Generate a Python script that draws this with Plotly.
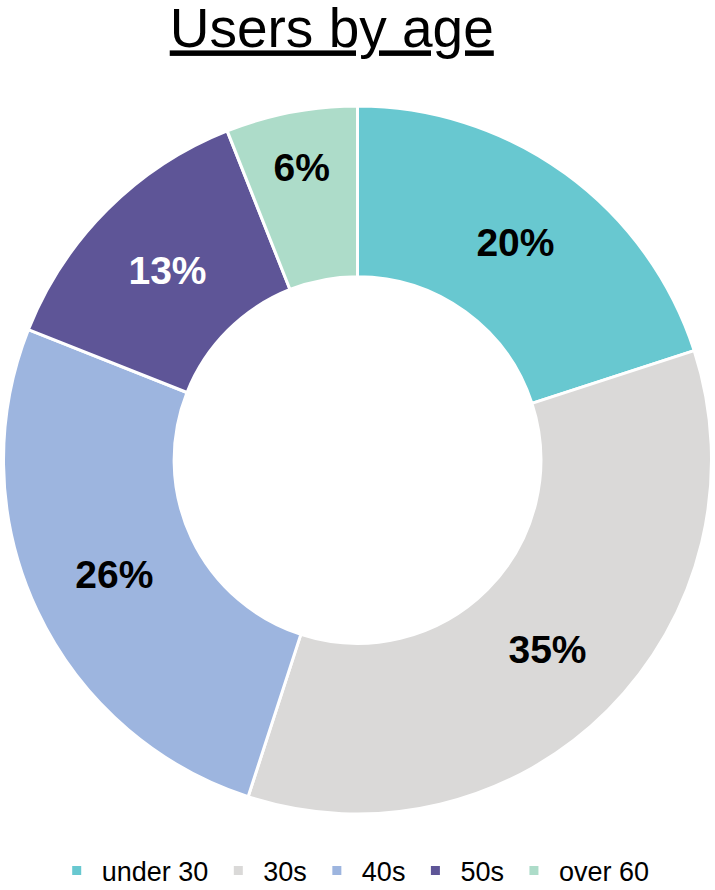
import plotly.graph_objects as go

categories = ["under 30", "30s", "40s", "50s", "over 60"]
shares = [20, 35, 26, 13, 6]
slice_colors = ["#68C8D0", "#DAD9D8", "#9DB5DF", "#5E5597", "#ADDCC9"]
label_colors = ["black", "black", "black", "white", "black"]
title_text = "Users by age"

fig = go.Figure(
    go.Pie(
        labels=categories,
        values=shares,
        sort=False,
        direction="clockwise",
        rotation=0,
        hole=0.518,
        marker=dict(colors=slice_colors, line=dict(color="white", width=3)),
        texttemplate="%{value}%",
        textposition="inside",
        insidetextorientation="horizontal",
        textfont=dict(family="Liberation Sans, Arial", size=39, color=label_colors, weight="bold"),
        domain=dict(x=[0, 1], y=[0.0854, 0.8809]),
    )
)

fig.update_layout(
    width=715,
    height=890,
    margin=dict(l=0, r=0, t=0, b=0, autoexpand=False),
    paper_bgcolor="white",
    plot_bgcolor="white",
    font=dict(family="Liberation Sans, Arial", color="black"),
    uniformtext=dict(minsize=39, mode="show"),
    title=dict(
        text="<u>" + title_text + "</u>",
        font=dict(size=55, family="Liberation Sans, Arial", color="black"),
        x=0.464,
        xanchor="center",
        y=0.99,
        yanchor="top",
        pad=dict(t=0),
    ),
    legend=dict(
        orientation="h",
        x=0.494,
        xanchor="center",
        y=0.0213,
        yanchor="middle",
        font=dict(size=27, family="Liberation Sans, Arial", color="black"),
        itemwidth=40,
    ),
)

fig.write_html(
    "out.html",
    config={"displayModeBar": False},
    post_script="document.body.style.margin='0';document.body.style.overflow='hidden';",
)
